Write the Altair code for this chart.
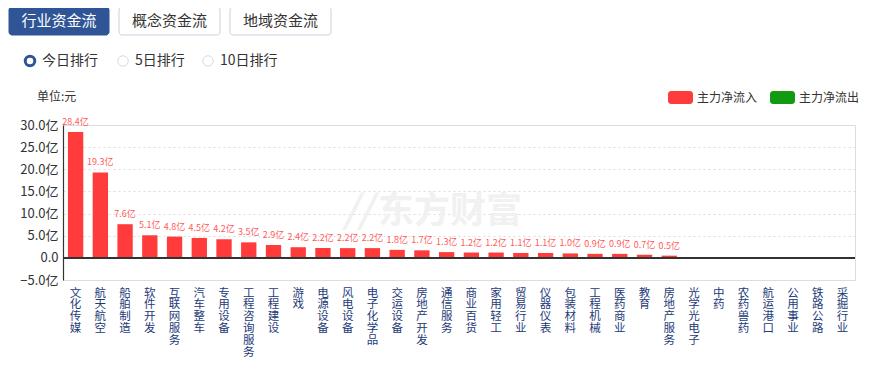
import altair as alt
import pandas as pd

categories = ["文化传媒", "航天航空", "船舶制造", "软件开发", "互联网服务", "汽车整车", "专用设备",
              "工程咨询服务", "工程建设", "游戏", "电源设备", "风电设备", "电子化学品", "交运设备",
              "房地产开发", "通信服务", "商业百货", "家用轻工", "贸易行业", "仪器仪表", "包装材料",
              "工程机械", "医药商业", "教育", "房地产服务", "光学光电子", "中药", "农药兽药",
              "航运港口", "公用事业", "铁路公路", "采掘行业"]
values = [28.4, 19.3, 7.6, 5.1, 4.8, 4.5, 4.2, 3.5, 2.9, 2.4, 2.2, 2.2, 2.2, 1.8, 1.7, 1.3,
          1.2, 1.2, 1.1, 1.1, 1.0, 0.9, 0.9, 0.7, 0.5, 0.05, 0.04, -0.04, -0.08, -0.18, -0.18, -0.25]
bar_labels = ["28.4亿", "19.3亿", "7.6亿", "5.1亿", "4.8亿", "4.5亿", "4.2亿", "3.5亿", "2.9亿",
              "2.4亿", "2.2亿", "2.2亿", "2.2亿", "1.8亿", "1.7亿", "1.3亿", "1.2亿", "1.2亿",
              "1.1亿", "1.1亿", "1.0亿", "0.9亿", "0.9亿", "0.7亿", "0.5亿", "", "", "", "", "", "", ""]
series_names = ["主力净流入", "主力净流出"]
series_colors = ["#ff3b3b", "#129a12"]
y_ticks = [-5, 0, 5, 10, 15, 20, 25, 30]
tabs = ["行业资金流", "概念资金流", "地域资金流"]
radios = ["今日排行", "5日排行", "10日排行"]

FONT = "Noto Sans CJK SC"
OX, OY = 63, 125  # page position of plot origin

df = pd.DataFrame({
    "cat": categories,
    "val": values,
    "lab": bar_labels,
    "dir": [series_names[0] if v >= 0 else series_names[1] for v in values],
})

xscale = alt.Scale(paddingInner=0.38, paddingOuter=0.2)
xaxis = alt.Axis(labelAngle=0, labelExpr="split(datum.label, '')", labelBaseline="top",
                 labelLineHeight=11.8, labelFontSize=11.5, labelColor="#1e3a78",
                 labelPadding=7, labelOverlap=False, domain=False, ticks=False,
                 labelFont=FONT, grid=False)
xenc = alt.X("cat:N", sort=categories, title=None, scale=xscale, axis=xaxis)
yscale = alt.Scale(domain=[-5, 30], nice=False, zero=False)
yaxis = alt.Axis(values=y_ticks, labelExpr="datum.value == 0 ? '0.0' : format(datum.value, '.1f') + '亿'",
                 labelFontSize=13, labelColor="#333333", labelFont=FONT, labelPadding=5,
                 labelOverlap=False, labelFlush=False, title=None,
                 ticks=False, domain=True, domainColor="#333333", domainWidth=1.2,
                 grid=True, gridColor="#dcdcdc", gridDash=[2, 3], gridWidth=1)
yenc = alt.Y("val:Q", title=None, scale=yscale, axis=yaxis)

bars = alt.Chart(df).mark_bar().encode(
    x=xenc, y=yenc, y2=alt.datum(0),
    color=alt.Color("dir:N", scale=alt.Scale(domain=series_names, range=series_colors), legend=None),
)
texts = alt.Chart(df).mark_text(baseline="bottom", dy=-5, fontSize=9, color="#ff5a5a", font=FONT).encode(
    x=xenc, y=yenc, text="lab:N")
zero = alt.Chart(df).mark_rule(color="#333333", strokeWidth=1.2).encode(
    y=alt.YDatum(0, scale=yscale, axis=yaxis, title=None))

one = pd.DataFrame({"a": [0]})
def px(x): return alt.value(x - OX)
def py(y): return alt.value(y - OY)

deco = []
# watermark
deco.append(alt.Chart(one).mark_text(fontSize=36, fontWeight="bold", color="#f1f1f1", font=FONT, align="center",
                                     baseline="middle", text="东方财富").encode(x=px(450), y=py(212)))
deco.append(alt.Chart(one).mark_text(fontSize=38, fontWeight="bold", color="#f1f1f1", font=FONT, align="center",
                                     baseline="middle", text="//", fontStyle="italic").encode(x=px(358), y=py(212)))
# tabs
tab_x = [(9, 109), (119, 220), (230, 331)]
for i, (t, (a, b)) in enumerate(zip(tabs, tab_x)):
    active = i == 0
    deco.append(alt.Chart(one).mark_rect(cornerRadius=3, fill="#2f5597" if active else "#ffffff",
                                         stroke="#2f5597" if active else "#c9d3e0", strokeWidth=1).encode(
        x=px(a), x2=px(b), y=py(7), y2=py(35)))
    deco.append(alt.Chart(one).mark_text(fontSize=15, font=FONT, align="center", baseline="middle",
                                         color="#ffffff" if active else "#333333", text=t).encode(
        x=px((a + b) / 2), y=py(21)))
# radios
radio_cx = [30, 123, 208]
for i, (t, cx) in enumerate(zip(radios, radio_cx)):
    active = i == 0
    deco.append(alt.Chart(one).mark_point(shape="circle", filled=False, size=90 if active else 110,
                                          fill="#ffffff", fillOpacity=1,
                                          stroke="#2f5597" if active else "#d5dbe5",
                                          strokeWidth=3 if active else 1, opacity=1).encode(
        x=px(cx), y=py(61)))
    deco.append(alt.Chart(one).mark_text(fontSize=14, font=FONT, align="left", baseline="middle",
                                         color="#333333", text=t).encode(x=px(cx + 12), y=py(61)))
# unit label
deco.append(alt.Chart(one).mark_text(fontSize=12, font=FONT, align="left", baseline="middle",
                                     color="#333333", text="单位:元").encode(x=px(37), y=py(97)))
# manual legend
leg_x = [668, 770]
for name, col, lx in zip(series_names, series_colors, leg_x):
    deco.append(alt.Chart(one).mark_rect(cornerRadius=3, fill=col).encode(
        x=px(lx), x2=px(lx + 25), y=py(91), y2=py(104)))
    deco.append(alt.Chart(one).mark_text(fontSize=12, font=FONT, align="left", baseline="middle",
                                         color="#333333", text=name).encode(x=px(lx + 29), y=py(97.5)))

chart = alt.layer(deco[0], deco[1], bars, zero, texts, *deco[2:]).properties(
    width=792, height=155,
    autosize=alt.AutoSizeParams(type="none"),
    padding={"left": 55, "top": 117, "right": 11, "bottom": 78},
).configure_view(strokeWidth=0).configure_axisY(labelOverlap=False).configure(font=FONT, background="#ffffff")

chart.save("out.html", embed_options={"renderer": "svg", "actions": False})
